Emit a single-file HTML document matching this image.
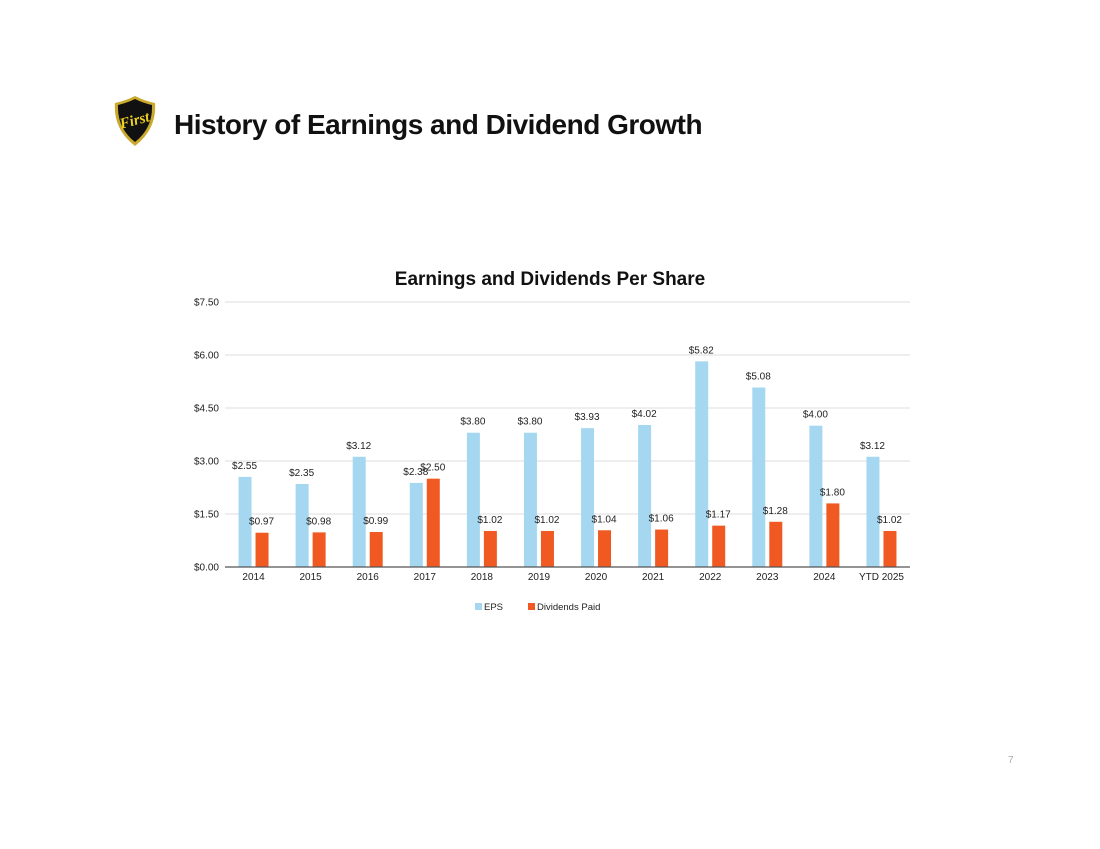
<!DOCTYPE html>
<html><head><meta charset="utf-8"><style>
body{margin:0;width:1100px;height:849px;background:#fff;font-family:"Liberation Sans",sans-serif;position:relative;overflow:hidden}
#title{position:absolute;left:174px;top:109px;font-size:28px;font-weight:bold;letter-spacing:-0.5px;color:#111}
#pg{position:absolute;left:1008px;top:755px;font-size:10px;color:#aaa}
</style></head><body>
<svg style="position:absolute;left:111px;top:95px" width="48" height="53" viewBox="0 0 48 53">
<path d="M4 8 Q14 6 24 1 Q34 6 44 8 Q46 34 24 51 Q2 34 4 8Z" fill="#caa92c"/>
<path d="M7 10 Q16 8 24 4 Q32 8 41 10 Q42 33 24 47 Q6 33 7 10Z" fill="#111"/>
<text x="24" y="30" text-anchor="middle" font-family="Liberation Serif" font-style="italic" font-weight="bold" font-size="15" fill="#f0d020" transform="rotate(-15 24 27)">First</text>
</svg>
<div id="title">History of Earnings and Dividend Growth</div>
<div id="pg">7</div>
<svg id="chart" style="position:absolute;left:0;top:0" width="1100" height="849"></svg>
<script>
const categories=["2014","2015","2016","2017","2018","2019","2020","2021","2022","2023","2024","YTD 2025"];
const eps=[2.55,2.35,3.12,2.38,3.80,3.80,3.93,4.02,5.82,5.08,4.00,3.12];
const dividends=[0.97,0.98,0.99,2.50,1.02,1.02,1.04,1.06,1.17,1.28,1.80,1.02];
const yTicks=[0,1.5,3,4.5,6,7.5];
const NS="http://www.w3.org/2000/svg";
const svg=document.getElementById('chart');
const x0=225,x1=910,yBase=567,yTop=302,yMax=7.5;
const y=v=>yBase-(v/yMax)*(yBase-yTop);
const step=(x1-x0)/categories.length;
const cx=i=>x0+step*(i+0.5);
function mk(t,a,txt){const e=document.createElementNS(NS,t);for(const k in a)e.setAttribute(k,a[k]);if(txt!=null)e.textContent=txt;svg.appendChild(e);return e;}
const fmt=v=>'$'+v.toFixed(2);
let t=mk('text',{x:550,y:285,'text-anchor':'middle','font-size':19,'font-weight':'bold',fill:'#111'},'Earnings and Dividends Per Share');


yTicks.forEach(v=>{
 if(v>0){const g=mk('line',{x1:x0,x2:x1,y1:y(v),y2:y(v),stroke:'#ddd','stroke-width':1});
 
 }
 const l=mk('text',{x:219,y:y(v)+3.5,'text-anchor':'end','font-size':10,fill:'#222'},fmt(v));
 
 
});
categories.forEach((c,i)=>{
 const m=cx(i);
 const b1=mk('rect',{x:m-15,y:y(eps[i]),width:13,height:yBase-y(eps[i]),fill:'#a5d8f0'});
 
 
 const b2=mk('rect',{x:m+2,y:y(dividends[i]),width:13,height:yBase-y(dividends[i]),fill:'#f05a22'});
 
 
 const l1=mk('text',{x:m-9,y:y(eps[i])-8,'text-anchor':'middle','font-size':10,fill:'#222'},fmt(eps[i]));
 
 
 const l2=mk('text',{x:m+8,y:y(dividends[i])-8,'text-anchor':'middle','font-size':10,fill:'#222'},fmt(dividends[i]));
 
 
 const xl=mk('text',{x:m,y:580,'text-anchor':'middle','font-size':10,fill:'#222'},c);
 
 
});
const ax=mk('line',{x1:x0,x2:x1,y1:yBase,y2:yBase,stroke:'#555','stroke-width':1.2});


const lg1=mk('rect',{x:475,y:603,width:7,height:7,fill:'#a5d8f0'});


const lt1=mk('text',{x:484,y:610,'font-size':9.5,fill:'#222'},'EPS');


const lg2=mk('rect',{x:528,y:603,width:7,height:7,fill:'#f05a22'});


const lt2=mk('text',{x:537,y:610,'font-size':9.5,fill:'#222'},'Dividends Paid');


</script>
</body></html>
